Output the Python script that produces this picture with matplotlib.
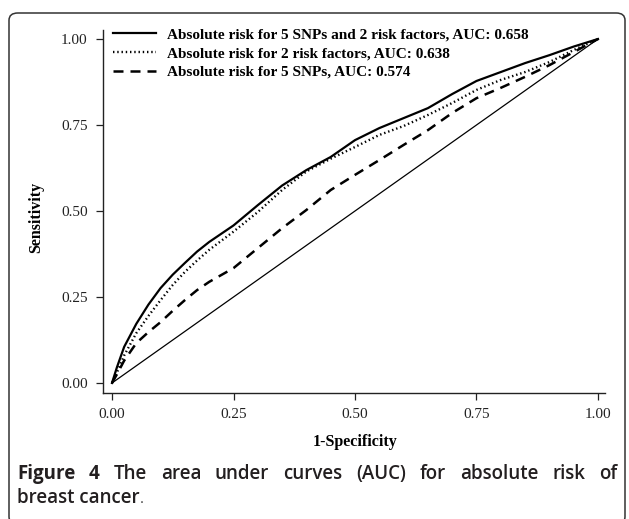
import numpy as np
import matplotlib
matplotlib.use('Agg')
import matplotlib.pyplot as plt
from matplotlib.patches import FancyBboxPatch

# ROC curves (1-specificity, sensitivity)
fpr = [0.0, 0.01, 0.025, 0.05, 0.075, 0.1, 0.125, 0.15, 0.175, 0.2, 0.25, 0.3, 0.35, 0.4,
       0.45, 0.5, 0.55, 0.6, 0.65, 0.7, 0.75, 0.8, 0.85, 0.9, 0.95, 1.0]
tpr_both = [0.0, 0.045, 0.105, 0.172, 0.228, 0.276, 0.315, 0.349, 0.382, 0.41, 0.458, 0.517,
            0.574, 0.619, 0.657, 0.706, 0.741, 0.77, 0.799, 0.84, 0.878, 0.904, 0.93, 0.953,
            0.978, 1.0]
tpr_rf = [0.0, 0.03, 0.08, 0.145, 0.195, 0.241, 0.285, 0.323, 0.356, 0.387, 0.44, 0.497,
          0.561, 0.615, 0.652, 0.686, 0.721, 0.747, 0.779, 0.814, 0.852, 0.881, 0.904, 0.933,
          0.968, 1.0]
tpr_snp = [0.0, 0.025, 0.065, 0.116, 0.148, 0.177, 0.21, 0.241, 0.27, 0.294, 0.334, 0.392,
           0.45, 0.503, 0.561, 0.605, 0.648, 0.692, 0.735, 0.785, 0.828, 0.858, 0.89, 0.924,
           0.962, 1.0]

labels = ['Absolute risk for 5 SNPs and 2 risk factors, AUC: 0.658',
          'Absolute risk for 2 risk factors, AUC: 0.638',
          'Absolute risk for 5 SNPs, AUC: 0.574']
ticks = [0.0, 0.25, 0.5, 0.75, 1.0]
tick_labels = ['0.00', '0.25', '0.50', '0.75', '1.00']
caption_1 = 'Figure 4 The area under curves (AUC) for absolute risk of'
caption_2 = 'breast cancer'

W, H = 629, 519
fig = plt.figure(figsize=(W / 100, H / 100), dpi=100)

# rounded frame around the figure
frame = FancyBboxPatch((9 / W, 1 - 524 / H), 616 / W, 511 / H,
                       boxstyle='round,pad=0,rounding_size=0.014',
                       transform=fig.transFigure, fill=False, ec='#333333', lw=1.1)
fig.patches.append(frame)

ax = fig.add_axes([103 / W, 1 - 393 / H, 502 / W, 363 / H])
ax.set_xlim(-9 / 486, 1 + 7 / 486)
ax.set_ylim(-10 / 344, 1 + 9 / 344)

ax.plot(fpr, tpr_both, color='black', lw=1.6, label=labels[0])
ax.plot(fpr, tpr_rf, color='black', lw=1.7, ls=(0, (0.6, 1.2)), label=labels[1])
ax.plot(fpr, tpr_snp, color='black', lw=1.8, ls=(0, (4, 2.8)), label=labels[2])
ax.plot([0, 1], [0, 1], color='black', lw=0.9)

for s in ['top', 'right']:
    ax.spines[s].set_visible(False)
for s in ['left', 'bottom']:
    ax.spines[s].set_linewidth(1.0)
    ax.spines[s].set_color('#222222')

ax.set_xticks(ticks)
ax.set_xticklabels(tick_labels)
ax.set_yticks(ticks)
ax.set_yticklabels(tick_labels)
ax.tick_params(direction='out', length=5, width=0.9, colors='#222222', labelsize=11, pad=6)
for t in ax.get_xticklabels() + ax.get_yticklabels():
    t.set_family('Liberation Serif')

ax.set_xlabel('1-Specificity', family='Liberation Serif', fontweight='bold', fontsize=11.5)
ax.xaxis.set_label_coords((355 - 103) / 502, (393 - 434) / 363)
ax.set_ylabel('Sensitivity', family='Liberation Serif', fontweight='bold', fontsize=11.5)
ax.yaxis.set_label_coords((44 - 103) / 502, (393 - 217) / 363)

ax.legend(loc='upper left', bbox_to_anchor=(113 / W, 1 - 28 / H), bbox_transform=fig.transFigure,
          frameon=False, handlelength=2.8, handletextpad=0.75, labelspacing=0.32,
          borderpad=0, borderaxespad=0,
          prop={'family': 'Liberation Serif', 'weight': 'bold', 'size': 11})

# caption, first line justified word by word
cap_col = '#231f20'
renderer = fig.canvas.get_renderer()
words = caption_1.split()
items = []
for i, w in enumerate(words):
    wt = 'bold' if i < 2 else 'semibold'
    t = fig.text(0, 1 - 479 / H, w, family='Open Sans', fontweight=wt, fontsize=13.5,
                 color=cap_col, va='baseline')
    items.append(t)
widths = [t.get_window_extent(renderer).width for t in items]
x0, x1 = 17, 617
gap = (x1 - x0 - sum(widths)) / (len(words) - 1)
x = x0
for t, w in zip(items, widths):
    t.set_x(x / W)
    x += w + gap
t2 = fig.text(17 / W, 1 - 503 / H, caption_2, family='Open Sans', fontweight='semibold',
              fontsize=13.5, color=cap_col, va='baseline')
w2 = t2.get_window_extent(renderer).width
fig.text((17 + w2 + 0.5) / W, 1 - 503 / H, '.', family='Open Sans', fontweight='normal',
         fontsize=11, color='#444444', va='baseline')

fig.savefig('out.png', dpi=100)
